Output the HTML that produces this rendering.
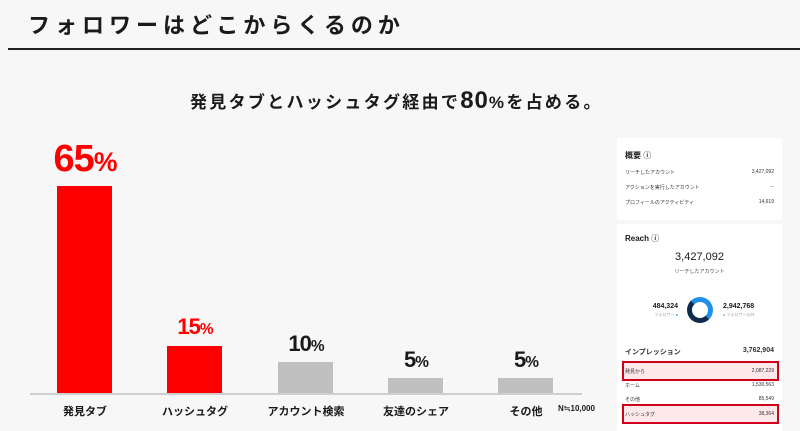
<!DOCTYPE html>
<html><head><meta charset="utf-8"><style>
*{margin:0;padding:0;box-sizing:border-box}
body{width:800px;height:431px;background:#f7f7f7;position:relative;overflow:hidden;font-family:"Liberation Sans","Noto Sans CJK JP",sans-serif;color:#1a1a1a}
.a{position:absolute;white-space:nowrap}
.bar{position:absolute}
.pct{position:absolute;font-weight:bold;text-align:center;width:90px;letter-spacing:-1px}
.pct small{font-size:0.7em}
.lab{position:absolute;width:110px;text-align:center;font-size:11px;font-weight:bold;top:403px}
.card{position:absolute;background:#fff;left:617px;width:165px}
.r{position:absolute;font-size:5px;color:#333;left:8px;right:8px;height:8px}
.r span{position:absolute;right:0;top:0}
.hl{position:absolute;left:5px;width:157px;height:20px;border:2px solid #d0021b;background:#fde8ea}
</style></head><body>
<div class="a" style="left:28px;top:8px;font-size:22px;font-weight:bold;letter-spacing:5px">フォロワーはどこからくるのか</div>
<div class="a" style="left:8px;top:48px;width:792px;height:2px;background:#222"></div>
<div class="a" style="left:190px;top:87px;font-size:17px;font-weight:bold;letter-spacing:2.3px">発見タブとハッシュタグ経由で<span style="font-size:24px;letter-spacing:1px">80</span>%を占める。</div>

<div class="bar" style="left:57px;top:186px;width:55px;height:207px;background:#fe0000"></div>
<div class="bar" style="left:167px;top:346px;width:55px;height:47px;background:#fe0000"></div>
<div class="bar" style="left:278px;top:362px;width:55px;height:31px;background:#c0c0c0"></div>
<div class="bar" style="left:388px;top:378px;width:55px;height:15px;background:#c0c0c0"></div>
<div class="bar" style="left:498px;top:378px;width:55px;height:15px;background:#c0c0c0"></div>
<div class="a" style="left:30px;top:393px;width:552px;height:2px;background:#cfcfcf"></div>

<div class="pct" style="left:40px;top:138px;font-size:38px;color:#fe0000">65<small>%</small></div>
<div class="pct" style="left:150px;top:314px;font-size:22px;color:#fe0000">15<small>%</small></div>
<div class="pct" style="left:261px;top:331px;font-size:22px">10<small>%</small></div>
<div class="pct" style="left:371px;top:347px;font-size:22px">5<small>%</small></div>
<div class="pct" style="left:481px;top:347px;font-size:22px">5<small>%</small></div>

<div class="lab" style="left:30px">発見タブ</div>
<div class="lab" style="left:140px">ハッシュタグ</div>
<div class="lab" style="left:251px">アカウント検索</div>
<div class="lab" style="left:361px">友達のシェア</div>
<div class="lab" style="left:471px">その他</div>
<div class="a" style="left:558px;top:404px;font-size:8px;font-weight:bold">N≒10,000</div>

<div class="card" style="top:138px;height:82px">
<div class="a" style="left:8px;top:12px;font-size:8px;font-weight:bold">概要 ⓘ</div>
<div class="r" style="top:31px">リーチしたアカウント<span>3,427,092</span></div>
<div class="r" style="top:46px">アクションを実行したアカウント<span>--</span></div>
<div class="r" style="top:61px">プロフィールのアクティビティ<span>14,619</span></div>
</div>
<div class="card" style="top:224px;height:207px">
<div class="a" style="left:8px;top:9px;font-size:8px;font-weight:bold">Reach ⓘ</div>
<div class="a" style="left:0;width:165px;text-align:center;top:27px;font-size:11px">3,427,092</div>
<div class="a" style="left:0;width:165px;text-align:center;top:44px;font-size:5px;color:#444">リーチしたアカウント</div>
<div class="a" style="left:70px;top:73px;width:26px;height:26px;border-radius:50%;border:5px solid #0f2a4a;border-top-color:#1e90e8;border-right-color:#1e90e8"></div>
<div class="a" style="left:6px;top:79px;width:55px;text-align:right;font-size:7px;font-weight:bold">484,324</div>
<div class="a" style="left:6px;top:88px;width:55px;text-align:right;font-size:4px;color:#999">フォロワー <span style="color:#1e90e8">●</span></div>
<div class="a" style="left:106px;top:79px;font-size:7px;font-weight:bold">2,942,768</div>
<div class="a" style="left:106px;top:88px;font-size:4px;color:#999">● フォロワー以外</div>
<div class="r" style="top:123px;font-size:7px;font-weight:bold">インプレッション<span>3,762,904</span></div>
<div class="hl" style="top:137px"></div>
<div class="r" style="top:144px">発見から<span>2,087,229</span></div>
<div class="r" style="top:158px">ホーム<span>1,530,563</span></div>
<div class="r" style="top:172px">その他<span>85,549</span></div>
<div class="hl" style="top:180px"></div>
<div class="r" style="top:187px">ハッシュタグ<span>38,364</span></div>
</div>
</body></html>
